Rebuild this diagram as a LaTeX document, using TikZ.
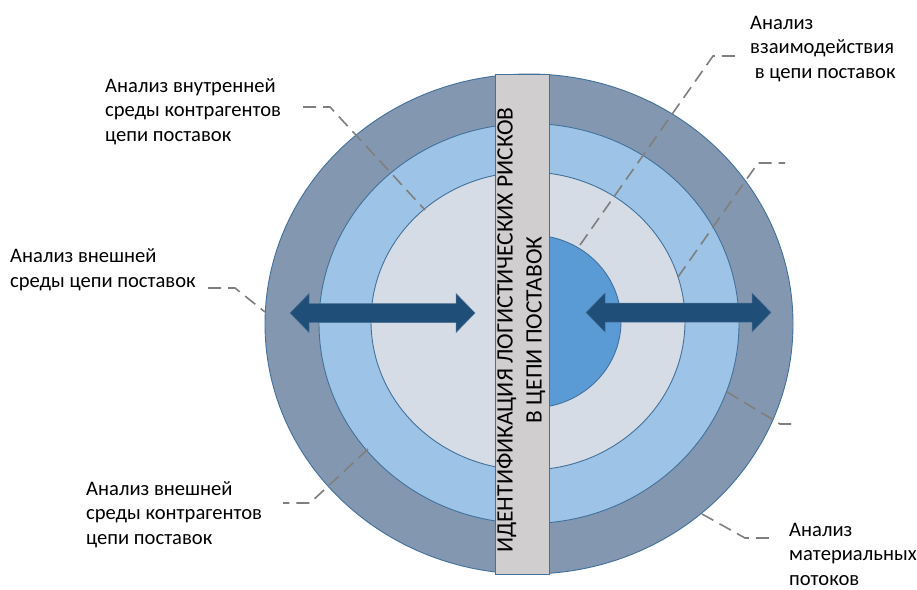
\documentclass[tikz,border=0pt]{standalone}
\usepackage{fontspec}
\setmainfont{Carlito}
\usetikzlibrary{shapes.geometric}
\definecolor{ringA}{HTML}{8497B0}
\definecolor{ringB}{HTML}{9DC3E6}
\definecolor{ringC}{HTML}{D6DCE5}
\definecolor{ringD}{HTML}{5B9BD5}
\definecolor{edgeblue}{HTML}{41719C}
\definecolor{barfill}{HTML}{D0CECE}
\definecolor{arrowblue}{HTML}{1F4E79}
\definecolor{leadergray}{HTML}{7F7F7F}
\tikzset{
  ring/.style={ellipse, draw=edgeblue, line width=0.9pt, inner sep=0pt},
  leader/.style={draw=leadergray, line width=1.6pt, dash pattern=on 13pt off 7pt},
  label/.style={anchor=base west, align=left, inner sep=0pt, font=\fontsize{20.6}{24.5}\selectfont},
  bigarrow/.style={fill=arrowblue, draw=arrowblue!80!white, line width=0.5pt},
}
\begin{document}
\begin{tikzpicture}[x=1pt,y=-1pt]
\useasboundingbox[fill=white] (0,0) rectangle (917,589);
% rings
\node[ring, fill=ringA, minimum width=528pt, minimum height=500pt] (outer) at (529,324) {};
\node[ring, fill=ringB, minimum width=420pt, minimum height=400pt] (second) at (529,323.5) {};
\node[ring, fill=ringC, minimum width=314pt, minimum height=298pt] (third) at (528,321) {};
% core: disc cut by the bar's right edge
\begin{scope}
  \clip (549,0) rectangle (917,589);
  \node[ring, fill=ringD, minimum width=180pt, minimum height=173pt] (core) at (531,321.5) {};
\end{scope}
% bar
\node[draw=edgeblue, fill=barfill, line width=0.9pt, minimum width=54pt, minimum height=500pt, inner sep=0pt] (bar) at (522,324) {};
\node[rotate=90, align=center, inner sep=0pt, font=\fontsize{23.5}{29}\selectfont] (bartext) at (521,330)
  {ИДЕНТИФИКАЦИЯ ЛОГИСТИЧЕСКИХ РИСКОВ\\В ЦЕПИ ПОСТАВОК};
% arrows
\path[bigarrow] (290,313) -- (309,293.5) -- (309,303.5) -- (456,303.5) -- (456,293.5) -- (475,313)
  -- (456,332.5) -- (456,322.5) -- (309,322.5) -- (309,332.5) -- cycle;
\path[bigarrow] (586,312.5) -- (605,293) -- (605,303) -- (752,303) -- (752,293) -- (771,312.5)
  -- (752,332) -- (752,322) -- (605,322) -- (605,332) -- cycle;
% labels (anchor = baseline of last line)
\node[label] (lab1) at (105,141) {Анализ внутренней\\среды контрагентов\\цепи поставок};
\node[label] (lab2) at (10,287) {Анализ внешней\\среды цепи поставок};
\node[label] (lab3) at (750,78) {Анализ\\взаимодействия\\\ в цепи поставок};
\node[label] (lab4) at (789,585) {Анализ\\материальных\\потоков};
\node[label] (lab5) at (86,544) {Анализ внешней\\среды контрагентов\\цепи поставок};
% leader points
\coordinate (p1) at (425,210); \coordinate (k1) at (330,107); \coordinate (e1) at (303,107);
\coordinate (p2) at (265,312); \coordinate (k2) at (235,288); \coordinate (e2) at (208,288);
\coordinate (p3) at (580,245); \coordinate (k3) at (713,56);  \coordinate (e3) at (740,56);
\coordinate (p4) at (678,277); \coordinate (k4) at (758,163); \coordinate (e4) at (785,163);
\coordinate (p5) at (727,392); \coordinate (k5) at (780,424); \coordinate (e5) at (796,424);
\coordinate (p6) at (702,514); \coordinate (k6) at (745,538); \coordinate (e6) at (773,538);
\coordinate (p7) at (368,449); \coordinate (k7) at (310,503); \coordinate (e7) at (283,503);
\draw[leader] (e1) -- (k1) -- (p1);
\draw[leader] (e2) -- (k2) -- (p2);
\draw[leader] (p3) -- (k3) -- (e3);
\draw[leader] (p4) -- (k4) -- (e4);
\draw[leader] (p5) -- (k5) -- (e5);
\draw[leader] (p6) -- (k6) -- (e6);
\draw[leader] (p7) -- (k7) -- (e7);
\end{tikzpicture}
\end{document}
